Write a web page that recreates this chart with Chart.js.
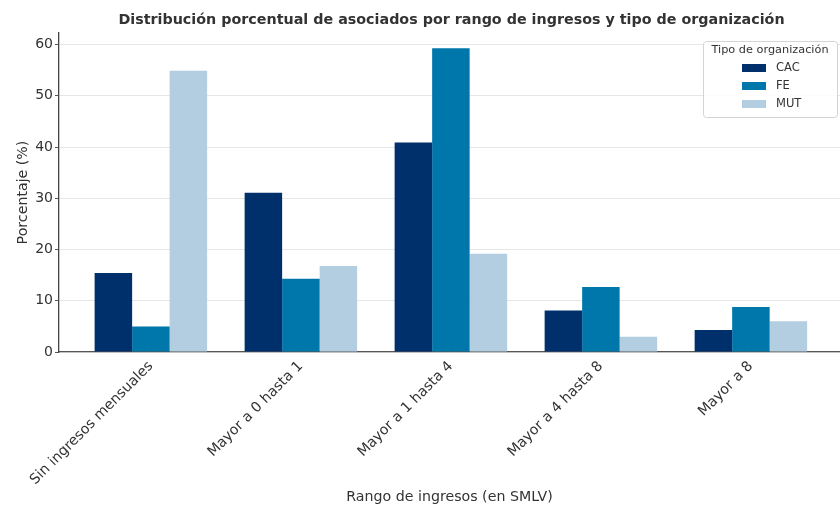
<!DOCTYPE html>
<html><head><meta charset="utf-8">
<script src="https://cdn.jsdelivr.net/npm/chart.js@4.4.1/dist/chart.umd.min.js"></script>
<style>html,body{margin:0;padding:0;background:#fff;overflow:hidden}#wrap{width:840px;height:510px;position:relative}</style>
</head><body><div id="wrap"><canvas id="c"></canvas></div>
<script>
const categories = ["Sin ingresos mensuales","Mayor a 0 hasta 1","Mayor a 1 hasta 4","Mayor a 4 hasta 8","Mayor a 8"];
const seriesNames = ["CAC","FE","MUT"];
const cacValues = [15.4, 31.1, 40.9, 8.1, 4.3];
const feValues  = [5.0, 14.3, 59.3, 12.7, 8.8];
const mutValues = [54.9, 16.8, 19.2, 3.0, 6.0];
const yTicks = [0, 10, 20, 30, 40, 50, 60];
const titleText = "Distribución porcentual de asociados por rango de ingresos y tipo de organización";
const legendTitle = "Tipo de organización";
const colors = ['#00306b', '#0077aa', '#b3cde1'];

const FONT = "'DejaVu Sans', sans-serif";
Chart.defaults.font.family = FONT;
Chart.defaults.color = '#333';

const allSeries = [cacValues, feValues, mutValues];
const datasets = seriesNames.map((n, k) => ({
  label: n,
  data: allSeries[k].map((v, i) => ({x: i, y: v})),
  backgroundColor: colors[k],
  borderWidth: 0,
  categoryPercentage: 0.75,
  barPercentage: 1.0
}));

const titlePlugin = {
  id: 'mplTitle',
  afterDraw(chart) {
    const ctx = chart.ctx, a = chart.chartArea;
    ctx.save();
    ctx.font = "bold 14.3px " + FONT;
    ctx.fillStyle = '#333';
    ctx.textAlign = 'center';
    ctx.textBaseline = 'middle';
    ctx.fillText(titleText, (a.left + 844) / 2, 20);
    ctx.restore();
  }
};

const xTickPlugin = {
  id: 'xInTicks',
  afterDraw(chart) {
    const ctx = chart.ctx, s = chart.scales.x, a = chart.chartArea;
    ctx.save();
    ctx.strokeStyle = '#555';
    ctx.lineWidth = 1;
    categories.forEach((c, i) => {
      const px = Math.round(s.getPixelForValue(i)) + 0.5;
      ctx.beginPath();
      ctx.moveTo(px, a.bottom);
      ctx.lineTo(px, a.bottom - 4);
      ctx.stroke();
    });
    ctx.restore();
  }
};

const legendPlugin = {
  id: 'mplLegend',
  afterDraw(chart) {
    const ctx = chart.ctx;
    const x0 = 703, y0 = 41, w = 134, h = 76;
    ctx.save();
    ctx.beginPath();
    ctx.roundRect(x0 + 0.5, y0 + 0.5, w, h, 3);
    ctx.fillStyle = 'rgba(255,255,255,0.85)';
    ctx.fill();
    ctx.strokeStyle = '#d4d4d4';
    ctx.lineWidth = 1;
    ctx.stroke();
    ctx.font = "11.3px " + FONT;
    ctx.fillStyle = '#333';
    ctx.textBaseline = 'middle';
    ctx.textAlign = 'center';
    ctx.fillText(legendTitle, x0 + w / 2, 50);
    ctx.font = "11.5px " + FONT;
    ctx.textAlign = 'left';
    chart.data.datasets.forEach((ds, k) => {
      const yy = 68 + k * 18;
      ctx.fillStyle = ds.backgroundColor;
      ctx.fillRect(742, yy - 4, 24, 8);
      ctx.fillStyle = '#333';
      ctx.fillText(ds.label, 776, yy);
    });
    ctx.restore();
  }
};

new Chart(document.getElementById('c'), {
  type: 'bar',
  data: { datasets },
  options: {
    responsive: true,
    maintainAspectRatio: false,
    animation: false,
    layout: { padding: { top: 33, left: 0, right: 0, bottom: 0 } },
    plugins: { legend: { display: false }, title: { display: false }, tooltip: { enabled: false } },
    scales: {
      x: {
        type: 'linear',
        min: -0.6125,
        max: 4.594,
        offset: false,
        afterFit(s) { s.height = 158; },
        afterBuildTicks(s) { s.ticks = categories.map((c, i) => ({ value: i })); },
        grid: { display: false },
        border: { display: true, color: '#555', width: 1.3 },
        ticks: {
          autoSkip: false,
          minRotation: 45,
          maxRotation: 45,
          padding: -2,
          color: '#333',
          font: { size: 14.2 },
          callback: (v) => categories[v]
        },
        title: { display: true, text: 'Rango de ingresos (en SMLV)', color: '#333', font: { size: 14.2 }, padding: { top: 4, bottom: 4 } }
      },
      y: {
        min: 0,
        max: 62.27,
        afterFit(s) { s.width = 59; },
        afterBuildTicks(s) { s.ticks = yTicks.map(v => ({ value: v })); },
        grid: { color: '#e6e6e6', lineWidth: 1, drawTicks: true, tickLength: 4, tickColor: '#555' },
        border: { display: true, color: '#444', width: 1.3 },
        ticks: { padding: 2, color: '#333', font: { size: 14 } },
        title: { display: true, text: 'Porcentaje (%)', color: '#333', font: { size: 14.2 }, padding: { top: 15, bottom: 0 } }
      }
    }
  },
  plugins: [titlePlugin, xTickPlugin, legendPlugin]
});
</script>
</body></html>
